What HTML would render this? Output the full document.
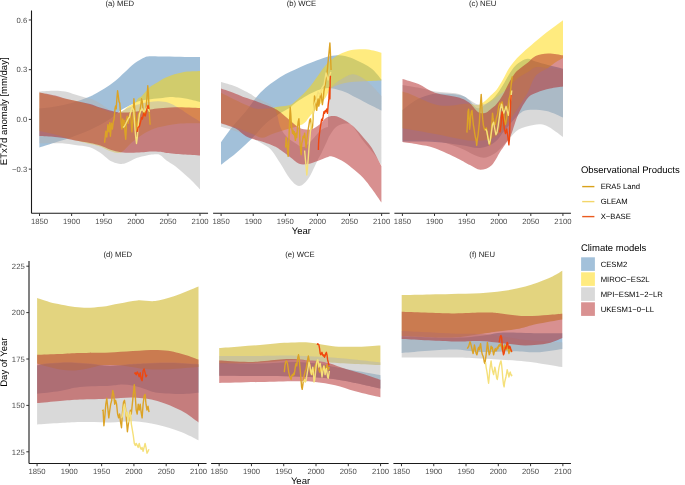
<!DOCTYPE html><html><head><meta charset="utf-8"><style>html,body{margin:0;padding:0;background:#fff;overflow:hidden}svg{display:block} text{filter:grayscale(1);text-rendering:geometricPrecision}</style></head><body><svg width="685" height="485" viewBox="0 0 685 485" font-family="Liberation Sans, sans-serif">
<rect width="685" height="485" fill="#fff"/>
<path d="M39.40 108.50C42.08 108.17 50.15 107.42 55.50 106.50C60.85 105.58 66.15 104.50 71.50 103.00C76.85 101.50 83.68 99.00 87.60 97.50C91.52 96.00 92.12 95.55 95.00 94.00C97.88 92.45 101.60 90.32 104.90 88.20C108.20 86.08 111.50 83.97 114.80 81.30C118.10 78.63 121.40 75.22 124.70 72.20C128.00 69.18 131.30 65.67 134.60 63.20C137.90 60.73 141.77 58.57 144.50 57.40C147.23 56.23 147.58 56.33 151.00 56.20C154.42 56.07 159.33 56.47 165.00 56.60C170.67 56.73 179.17 56.93 185.00 57.00C190.83 57.07 197.50 57.00 200.00 57.00L200.00 102.00C198.33 101.58 193.67 100.23 190.00 99.50C186.33 98.77 181.33 98.02 178.00 97.60C174.67 97.18 173.00 96.88 170.00 97.00C167.00 97.12 163.68 97.88 160.00 98.30C156.32 98.72 151.02 99.13 147.90 99.50C144.78 99.87 143.50 99.93 141.30 100.50C139.10 101.07 136.90 101.95 134.70 102.90C132.50 103.85 130.28 105.05 128.10 106.20C125.92 107.35 123.45 108.57 121.60 109.80C119.75 111.03 118.93 112.07 117.00 113.60C115.07 115.13 112.83 117.10 110.00 119.00C107.17 120.90 103.33 123.17 100.00 125.00C96.67 126.83 93.33 128.50 90.00 130.00C86.67 131.50 83.67 132.58 80.00 134.00C76.33 135.42 71.90 137.17 68.00 138.50C64.10 139.83 61.37 140.50 56.60 142.00C51.83 143.50 42.27 146.58 39.40 147.50Z" fill="#4682b4" fill-opacity="0.5"/>
<path d="M39.40 92.60C43.48 93.58 57.13 96.93 63.90 98.50C70.67 100.07 74.82 100.67 80.00 102.00C85.18 103.33 90.83 105.17 95.00 106.50C99.17 107.83 102.17 109.00 105.00 110.00C107.83 111.00 109.68 112.00 112.00 112.50C114.32 113.00 116.90 113.42 118.90 113.00C120.90 112.58 122.47 111.08 124.00 110.00C125.53 108.92 126.32 107.67 128.10 106.50C129.88 105.33 133.05 104.33 134.70 103.00C136.35 101.67 136.90 99.58 138.00 98.50C139.10 97.42 140.22 97.42 141.30 96.50C142.38 95.58 143.05 94.58 144.50 93.00C145.95 91.42 148.25 88.53 150.00 87.00C151.75 85.47 152.25 85.43 155.00 83.80C157.75 82.17 161.83 79.12 166.50 77.20C171.17 75.28 177.42 73.32 183.00 72.30C188.58 71.28 197.17 71.30 200.00 71.10L200.00 123.20C196.33 123.28 184.67 123.07 178.00 123.70C171.33 124.33 164.35 126.02 160.00 127.00C155.65 127.98 154.98 128.22 151.90 129.60C148.82 130.98 144.95 133.07 141.50 135.30C138.05 137.53 134.63 140.13 131.20 143.00C127.77 145.87 124.33 151.12 120.90 152.50C117.47 153.88 114.08 152.30 110.60 151.30C107.12 150.30 103.43 147.72 100.00 146.50C96.57 145.28 93.33 144.83 90.00 144.00C86.67 143.17 83.67 142.42 80.00 141.50C76.33 140.58 72.17 139.67 68.00 138.50C63.83 137.33 59.77 135.73 55.00 134.50C50.23 133.27 42.00 131.67 39.40 131.10Z" fill="#ffd700" fill-opacity="0.5"/>
<path d="M39.40 91.50C42.00 91.37 50.73 90.70 55.00 90.70C59.27 90.70 61.67 90.87 65.00 91.50C68.33 92.13 71.67 93.50 75.00 94.50C78.33 95.50 81.67 96.50 85.00 97.50C88.33 98.50 91.83 99.08 95.00 100.50C98.17 101.92 101.17 104.25 104.00 106.00C106.83 107.75 109.33 110.00 112.00 111.00C114.67 112.00 117.33 112.50 120.00 112.00C122.67 111.50 124.67 109.33 128.00 108.00C131.33 106.67 136.42 105.00 140.00 104.00C143.58 103.00 146.33 102.45 149.50 102.00C152.67 101.55 155.83 101.17 159.00 101.30C162.17 101.43 165.33 101.75 168.50 102.80C171.67 103.85 174.85 105.78 178.00 107.60C181.15 109.42 183.73 111.38 187.40 113.70C191.07 116.02 197.90 120.20 200.00 121.50L200.00 189.30C198.67 187.92 194.83 183.75 192.00 181.00C189.17 178.25 185.83 175.30 183.00 172.80C180.17 170.30 177.75 168.07 175.00 166.00C172.25 163.93 169.00 162.25 166.50 160.40C164.00 158.55 162.25 155.88 160.00 154.90C157.75 153.92 155.22 154.42 153.00 154.50C150.78 154.58 149.47 154.82 146.70 155.40C143.93 155.98 139.85 156.72 136.40 158.00C132.95 159.28 128.92 162.15 126.00 163.10C123.08 164.05 121.47 164.05 118.90 163.70C116.33 163.35 112.83 162.12 110.60 161.00C108.37 159.88 107.22 158.37 105.50 157.00C103.78 155.63 102.88 154.43 100.30 152.80C97.72 151.17 94.22 148.50 90.00 147.20C85.78 145.90 79.33 145.62 75.00 145.00C70.67 144.38 67.33 143.78 64.00 143.50C60.67 143.22 59.10 143.33 55.00 143.30C50.90 143.27 42.00 143.30 39.40 143.30Z" fill="#b3b3b3" fill-opacity="0.5"/>
<path d="M39.40 92.40C42.00 92.92 50.73 94.47 55.00 95.50C59.27 96.53 61.12 97.60 65.00 98.60C68.88 99.60 74.13 100.60 78.30 101.50C82.47 102.40 86.38 103.00 90.00 104.00C93.62 105.00 96.67 106.42 100.00 107.50C103.33 108.58 106.85 109.68 110.00 110.50C113.15 111.32 115.90 112.08 118.90 112.40C121.90 112.72 124.48 112.63 128.00 112.40C131.52 112.17 136.33 111.48 140.00 111.00C143.67 110.52 146.67 109.95 150.00 109.50C153.33 109.05 155.83 108.67 160.00 108.30C164.17 107.93 168.33 107.35 175.00 107.30C181.67 107.25 195.83 107.88 200.00 108.00L200.00 155.50C197.17 155.33 188.58 154.92 183.00 154.50C177.42 154.08 170.33 153.45 166.50 153.00C162.67 152.55 162.75 152.07 160.00 151.80C157.25 151.53 153.08 151.32 150.00 151.40C146.92 151.48 144.63 152.07 141.50 152.30C138.37 152.53 134.63 152.80 131.20 152.80C127.77 152.80 124.33 152.82 120.90 152.30C117.47 151.78 114.03 150.82 110.60 149.70C107.17 148.58 103.73 146.72 100.30 145.60C96.87 144.48 94.22 143.85 90.00 143.00C85.78 142.15 79.35 141.33 75.00 140.50C70.65 139.67 67.23 138.58 63.90 138.00C60.57 137.42 59.08 137.32 55.00 137.00C50.92 136.68 42.00 136.25 39.40 136.10Z" fill="#b22222" fill-opacity="0.5"/>
<path d="M104.6 142.8 L105.8 131.2 L106.8 137.0 L107.9 124.7 L108.9 131.9 L109.8 122.6 L110.4 136.3 L111.5 123.3 L112.4 129.1 L113.3 121.8 L114.1 119.0 L115.0 108.9 L115.6 106.0 L116.2 108.9 L117.0 97.3 L117.6 90.8 L118.3 95.9 L119.0 101.6 L119.8 103.1 L120.5 113.2 L121.2 123.3 L121.9 129.1 L122.7 119.0 L123.4 127.6 L124.2 120.4 L124.8 130.5 L125.7 139.2 L126.4 127.6 L126.2 120.4 L127.2 116.1 L128.2 123.3 L129.0 117.5 L130.1 113.2 L131.1 120.4 L131.9 131.9 L132.6 123.3 L133.4 108.9 L133.9 98.8 L134.5 106.0 L135.1 114.6 L135.8 123.3 L136.5 130.5 L137.3 123.3 L138.0 117.5 L138.7 113.2 L139.4 116.1 L140.2 108.9 L140.9 104.5 L141.6 98.8 L142.3 101.6 L143.0 108.9 L143.8 114.6 L144.5 111.7 L145.2 116.1 L145.9 108.9 L146.6 101.6 L147.4 91.5 L147.8 85.8 L148.4 94.4 L149.0 106.0 L149.5 116.1 L150.1 124.7" stroke="#dca325" stroke-width="1.4" fill="none" stroke-linejoin="round"/>
<path d="M123.1 127.6 L124.5 126.2 L126.0 123.3 L127.4 120.4 L128.9 117.5 L129.3 117.5 L130.8 111.7 L132.2 107.4 L133.7 110.3 L134.4 120.4 L135.1 130.5 L135.8 137.7 L136.5 143.5 L137.3 137.7 L138.0 127.6 L138.7 120.4 L139.4 114.6 L140.9 110.3 L142.3 108.9 L143.8 111.7 L145.2 110.3 L146.6 107.4 L148.1 108.9 L149.5 111.7" stroke="#f5e07a" stroke-width="1.4" fill="none" stroke-linejoin="round"/>
<path d="M137.3 131.9 L138.0 127.6 L138.7 126.9 L139.4 126.2 L140.2 123.3 L140.9 120.4 L141.6 117.5 L142.3 119.0 L143.0 116.1 L143.8 113.2 L144.5 114.6 L145.2 116.1 L145.9 113.2 L146.6 110.3 L147.4 107.4 L148.1 105.3 L148.8 108.9" stroke="#f0470e" stroke-width="1.4" fill="none" stroke-linejoin="round"/>
<path d="M221.00 142.20C223.00 139.50 228.85 131.17 233.00 126.00C237.15 120.83 242.03 115.95 245.90 111.20C249.77 106.45 252.97 101.37 256.20 97.50C259.43 93.63 262.12 90.83 265.30 88.00C268.48 85.17 271.92 82.83 275.30 80.50C278.68 78.17 282.17 75.87 285.60 74.00C289.03 72.13 292.47 70.87 295.90 69.30C299.33 67.73 302.77 66.07 306.20 64.60C309.63 63.13 313.37 61.70 316.50 60.50C319.63 59.30 321.92 58.23 325.00 57.40C328.08 56.57 331.67 55.73 335.00 55.50C338.33 55.27 341.52 55.25 345.00 56.00C348.48 56.75 351.50 57.92 355.90 60.00C360.30 62.08 367.15 65.25 371.40 68.50C375.65 71.75 379.73 77.67 381.40 79.50L381.40 110.50C378.90 109.25 370.65 105.15 366.40 103.00C362.15 100.85 359.47 99.43 355.90 97.60C352.33 95.77 349.12 93.55 345.00 92.00C340.88 90.45 334.80 88.87 331.20 88.30C327.60 87.73 326.10 88.07 323.40 88.60C320.70 89.13 317.73 90.35 315.00 91.50C312.27 92.65 309.02 94.40 307.00 95.50C304.98 96.60 304.73 96.93 302.90 98.10C301.07 99.27 298.15 100.93 296.00 102.50C293.85 104.07 291.83 106.17 290.00 107.50C288.17 108.83 286.75 109.48 285.00 110.50C283.25 111.52 280.90 112.72 279.50 113.60C278.10 114.48 278.18 114.73 276.60 115.80C275.02 116.87 272.40 118.13 270.00 120.00C267.60 121.87 264.50 124.67 262.20 127.00C259.90 129.33 258.92 131.13 256.20 134.00C253.48 136.87 249.33 140.95 245.90 144.20C242.47 147.45 239.75 150.07 235.60 153.50C231.45 156.93 223.43 162.92 221.00 164.80Z" fill="#4682b4" fill-opacity="0.5"/>
<path d="M221.00 92.70C223.43 93.92 231.60 98.03 235.60 100.00C239.60 101.97 241.77 103.08 245.00 104.50C248.23 105.92 252.17 107.78 255.00 108.50C257.83 109.22 259.50 108.85 262.00 108.80C264.50 108.75 268.00 108.42 270.00 108.20C272.00 107.98 272.33 107.78 274.00 107.50C275.67 107.22 277.33 106.92 280.00 106.50C282.67 106.08 287.50 105.83 290.00 105.00C292.50 104.17 293.33 102.83 295.00 101.50C296.67 100.17 298.13 98.75 300.00 97.00C301.87 95.25 304.20 93.17 306.20 91.00C308.20 88.83 309.95 86.67 312.00 84.00C314.05 81.33 316.33 78.00 318.50 75.00C320.67 72.00 322.37 68.93 325.00 66.00C327.63 63.07 330.97 59.73 334.30 57.40C337.63 55.07 341.40 53.30 345.00 52.00C348.60 50.70 352.07 50.02 355.90 49.60C359.73 49.18 363.75 48.98 368.00 49.50C372.25 50.02 379.17 52.17 381.40 52.70L381.40 80.50C378.43 80.63 369.67 80.88 363.60 81.30C357.53 81.72 350.43 81.80 345.00 83.00C339.57 84.20 334.17 86.17 331.00 88.50C327.83 90.83 328.17 93.92 326.00 97.00C323.83 100.08 320.67 103.83 318.00 107.00C315.33 110.17 312.17 113.42 310.00 116.00C307.83 118.58 306.82 120.87 305.00 122.50C303.18 124.13 301.63 124.78 299.10 125.80C296.57 126.82 292.88 127.68 289.80 128.60C286.72 129.52 283.73 130.32 280.60 131.30C277.47 132.28 274.10 133.42 271.00 134.50C267.90 135.58 265.50 138.05 262.00 137.80C258.50 137.55 254.40 134.72 250.00 133.00C245.60 131.28 240.43 129.17 235.60 127.50C230.77 125.83 223.43 123.75 221.00 123.00Z" fill="#ffd700" fill-opacity="0.5"/>
<path d="M221.00 82.00C223.43 82.75 230.77 84.55 235.60 86.50C240.43 88.45 246.77 91.95 250.00 93.70C253.23 95.45 253.00 95.87 255.00 97.00C257.00 98.13 259.50 99.25 262.00 100.50C264.50 101.75 267.92 103.15 270.00 104.50C272.08 105.85 273.25 106.68 274.50 108.60C275.75 110.52 276.53 112.93 277.50 116.00C278.47 119.07 278.88 123.67 280.30 127.00C281.72 130.33 283.55 133.33 286.00 136.00C288.45 138.67 292.05 141.17 295.00 143.00C297.95 144.83 300.87 147.50 303.70 147.00C306.53 146.50 309.12 142.83 312.00 140.00C314.88 137.17 318.33 132.17 321.00 130.00C323.67 127.83 326.83 127.50 328.00 127.00L328.00 139.00C327.00 141.17 323.72 148.48 322.00 152.00C320.28 155.52 319.97 155.67 317.70 160.10C315.43 164.53 311.50 174.27 308.40 178.60C305.30 182.93 302.20 186.10 299.10 186.10C296.00 186.10 292.88 182.32 289.80 178.60C286.72 174.88 283.68 168.58 280.60 163.80C277.52 159.02 274.40 153.30 271.30 149.90C268.20 146.50 265.55 145.55 262.00 143.40C258.45 141.25 254.40 139.07 250.00 137.00C245.60 134.93 240.43 132.72 235.60 131.00C230.77 129.28 223.43 127.42 221.00 126.70Z" fill="#b3b3b3" fill-opacity="0.5"/>
<path d="M328.00 92.00C328.50 91.25 329.00 89.50 331.00 87.50C333.00 85.50 336.62 82.18 340.00 80.00C343.38 77.82 347.80 74.90 351.30 74.40C354.80 73.90 357.65 75.20 361.00 77.00C364.35 78.80 368.00 82.03 371.40 85.20C374.80 88.37 379.73 94.20 381.40 96.00L381.40 165.00C380.18 163.17 377.12 158.00 374.10 154.00C371.08 150.00 366.83 145.58 363.30 141.00C359.77 136.42 355.45 129.40 352.90 126.50C350.35 123.60 349.98 123.93 348.00 123.60C346.02 123.27 343.17 123.77 341.00 124.50C338.83 125.23 336.93 126.08 335.00 128.00C333.07 129.92 330.57 134.17 329.40 136.00C328.23 137.83 328.23 138.50 328.00 139.00Z" fill="#b3b3b3" fill-opacity="0.5"/>
<path d="M221.00 88.60C223.43 89.45 231.60 92.22 235.60 93.70C239.60 95.18 241.77 96.33 245.00 97.50C248.23 98.67 252.17 99.70 255.00 100.70C257.83 101.70 259.50 102.53 262.00 103.50C264.50 104.47 267.92 105.65 270.00 106.50C272.08 107.35 272.83 107.68 274.50 108.60C276.17 109.52 277.42 110.02 280.00 112.00C282.58 113.98 286.87 117.92 290.00 120.50C293.13 123.08 296.47 126.03 298.80 127.50C301.13 128.97 301.85 129.00 304.00 129.30C306.15 129.60 309.12 130.08 311.70 129.30C314.28 128.52 317.12 126.48 319.50 124.60C321.88 122.72 323.75 119.43 326.00 118.00C328.25 116.57 330.57 116.00 333.00 116.00C335.43 116.00 337.28 116.33 340.60 118.00C343.92 119.67 348.78 122.38 352.90 126.00C357.02 129.62 362.12 135.98 365.30 139.70C368.48 143.42 369.32 143.92 372.00 148.30C374.68 152.68 379.83 163.05 381.40 166.00L381.40 202.50C379.83 200.25 375.02 193.10 372.00 189.00C368.98 184.90 366.63 181.40 363.30 177.90C359.97 174.40 355.62 170.88 352.00 168.00C348.38 165.12 344.93 162.53 341.60 160.60C338.27 158.67 334.43 156.95 332.00 156.40C329.57 155.85 329.38 156.53 327.00 157.30C324.62 158.07 320.87 159.88 317.70 161.00C314.53 162.12 311.10 163.53 308.00 164.00C304.90 164.47 302.10 164.97 299.10 163.80C296.10 162.63 293.08 159.30 290.00 157.00C286.92 154.70 283.10 151.75 280.60 150.00C278.10 148.25 278.10 147.92 275.00 146.50C271.90 145.08 265.17 142.58 262.00 141.50C258.83 140.42 258.68 140.87 256.00 140.00C253.32 139.13 249.30 138.22 245.90 136.30C242.50 134.38 239.75 130.68 235.60 128.50C231.45 126.32 223.43 124.08 221.00 123.20Z" fill="#b22222" fill-opacity="0.5"/>
<path d="M285.6 147.6 L286.2 137.5 L287.0 143.3 L287.6 151.9 L288.2 156.3 L288.8 143.3 L289.3 128.9 L289.9 114.4 L290.2 107.2 L290.8 114.4 L291.4 126.0 L291.9 128.9 L292.5 133.2 L293.1 130.3 L293.7 134.6 L294.3 131.7 L294.8 136.1 L295.4 140.4 L296.0 133.2 L296.7 137.5 L297.4 128.9 L298.2 121.6 L298.9 118.8 L299.5 128.9 L300.0 143.3 L300.6 149.1 L301.2 154.8 L301.8 143.3 L302.5 140.4 L303.2 136.1 L303.9 137.5 L304.6 133.2 L305.4 140.4 L306.1 147.6 L306.8 140.4 L307.5 134.6 L308.3 128.9 L309.0 124.5 L309.7 120.2 L310.4 118.8 L311.1 123.1 L311.9 128.9 L312.6 126.0 L313.3 114.4 L314.0 107.2 L314.5 96.0 L315.2 98.9 L315.9 104.6 L316.7 110.4 L317.4 103.2 L318.1 98.9 L318.8 106.1 L319.5 101.7 L320.3 96.0 L321.0 93.1 L321.7 98.9 L322.4 104.6 L323.2 98.9 L323.9 91.6 L324.6 87.3 L325.3 84.4 L326.0 78.7 L326.8 75.8 L329.9 43.0 L330.4 52.7 L331.1 70.0" stroke="#dca325" stroke-width="1.4" fill="none" stroke-linejoin="round"/>
<path d="M304.6 150.5 L305.4 159.2 L306.1 166.4 L306.8 175.0 L307.5 167.8 L308.3 157.7 L309.0 147.6 L309.7 140.4 L310.4 131.7 L311.1 126.0 L311.9 121.6 L312.6 117.3 L313.3 111.5 L314.0 105.8 L315.9 100.3 L318.0 91.9 L320.0 95.0 L322.0 88.0 L324.0 85.0 L326.0 73.0 L328.1 80.0 L330.9 71.9" stroke="#f5e07a" stroke-width="1.4" fill="none" stroke-linejoin="round"/>
<path d="M318.4 150.1 L318.5 145.0 L318.8 139.3 L319.5 133.5 L320.3 127.7 L321.0 123.4 L321.7 119.1 L322.4 120.5 L323.2 116.2 L323.9 111.8 L324.6 113.3 L325.3 110.4 L326.0 111.8 L326.8 109.0 L327.5 113.3 L328.2 104.6 L328.9 98.9 L329.4 91.6 L329.6 87.3 L329.8 90.2 L329.9 98.9 L330.1 87.3 L330.2 80.1 L330.4 75.8" stroke="#f0470e" stroke-width="1.4" fill="none" stroke-linejoin="round"/>
<path d="M402.50 110.00C403.75 109.00 407.08 106.00 410.00 104.00C412.92 102.00 416.58 99.58 420.00 98.00C423.42 96.42 427.17 95.25 430.50 94.50C433.83 93.75 436.42 93.58 440.00 93.50C443.58 93.42 448.17 93.58 452.00 94.00C455.83 94.42 460.17 95.00 463.00 96.00C465.83 97.00 466.50 97.97 469.00 100.00C471.50 102.03 474.43 108.07 478.00 108.20C481.57 108.33 487.30 103.07 490.40 100.80C493.50 98.53 494.53 97.18 496.60 94.60C498.67 92.02 500.75 88.60 502.80 85.30C504.85 82.00 506.85 78.00 508.90 74.80C510.95 71.60 513.03 68.37 515.10 66.10C517.17 63.83 519.15 62.43 521.30 61.20C523.45 59.97 525.62 58.65 528.00 58.70C530.38 58.75 532.27 60.45 535.60 61.50C538.93 62.55 543.43 63.80 548.00 65.00C552.57 66.20 560.50 68.08 563.00 68.70L563.00 117.50C560.23 116.42 552.27 112.25 546.40 111.00C540.53 109.75 532.43 109.38 527.80 110.00C523.17 110.62 522.40 111.37 518.60 114.70C514.80 118.03 508.93 125.45 505.00 130.00C501.07 134.55 499.17 139.00 495.00 142.00C490.83 145.00 485.83 147.50 480.00 148.00C474.17 148.50 467.50 146.00 460.00 145.00C452.50 144.00 444.58 142.58 435.00 142.00C425.42 141.42 407.92 141.58 402.50 141.50Z" fill="#4682b4" fill-opacity="0.5"/>
<path d="M402.50 91.60C403.75 92.00 407.08 92.85 410.00 94.00C412.92 95.15 416.58 97.00 420.00 98.50C423.42 100.00 427.17 101.83 430.50 103.00C433.83 104.17 436.42 105.08 440.00 105.50C443.58 105.92 448.17 105.75 452.00 105.50C455.83 105.25 459.83 104.25 463.00 104.00C466.17 103.75 468.50 103.83 471.00 104.00C473.50 104.17 475.67 105.50 478.00 105.00C480.33 104.50 482.93 102.53 485.00 101.00C487.07 99.47 488.47 97.68 490.40 95.80C492.33 93.92 494.53 92.37 496.60 89.70C498.67 87.03 500.75 83.32 502.80 79.80C504.85 76.28 506.87 71.82 508.90 68.60C510.93 65.38 512.93 62.93 515.00 60.50C517.07 58.07 518.55 56.58 521.30 54.00C524.05 51.42 527.32 48.57 531.50 45.00C535.68 41.43 541.15 36.73 546.40 32.60C551.65 28.47 560.23 22.27 563.00 20.20L563.00 57.90C561.83 58.58 558.50 60.32 556.00 62.00C553.50 63.68 551.40 65.67 548.00 68.00C544.60 70.33 538.93 72.00 535.60 76.00C532.27 80.00 530.60 87.17 528.00 92.00C525.40 96.83 523.00 100.33 520.00 105.00C517.00 109.67 513.33 115.33 510.00 120.00C506.67 124.67 503.33 129.83 500.00 133.00C496.67 136.17 494.17 137.67 490.00 139.00C485.83 140.33 480.00 141.00 475.00 141.00C470.00 141.00 466.67 140.17 460.00 139.00C453.33 137.83 444.58 135.78 435.00 134.00C425.42 132.22 407.92 129.25 402.50 128.30Z" fill="#ffd700" fill-opacity="0.5"/>
<path d="M402.50 85.00C405.42 85.50 414.58 86.92 420.00 88.00C425.42 89.08 428.72 90.53 435.00 91.50C441.28 92.47 452.03 92.47 457.70 93.80C463.37 95.13 465.62 97.72 469.00 99.50C472.38 101.28 474.83 103.92 478.00 104.50C481.17 105.08 484.67 104.42 488.00 103.00C491.33 101.58 494.67 98.50 498.00 96.00C501.33 93.50 504.67 91.00 508.00 88.00C511.33 85.00 514.67 80.67 518.00 78.00C521.33 75.33 525.07 73.80 528.00 72.00C530.93 70.20 532.27 67.87 535.60 67.20C538.93 66.53 543.43 67.62 548.00 68.00C552.57 68.38 560.50 69.25 563.00 69.50L563.00 137.00C560.23 135.13 551.33 127.82 546.40 125.80C541.47 123.78 538.03 124.28 533.40 124.90C528.77 125.52 522.62 127.18 518.60 129.50C514.58 131.82 512.40 135.55 509.30 138.80C506.20 142.05 502.88 146.30 500.00 149.00C497.12 151.70 495.27 153.62 492.00 155.00C488.73 156.38 486.12 158.62 480.40 157.30C474.68 155.98 465.27 149.93 457.70 147.10C450.13 144.27 441.28 141.48 435.00 140.30C428.72 139.12 425.42 140.05 420.00 140.00C414.58 139.95 405.42 140.00 402.50 140.00Z" fill="#b3b3b3" fill-opacity="0.5"/>
<path d="M402.50 78.90C405.17 79.75 413.08 81.70 418.50 84.00C423.92 86.30 428.47 90.50 435.00 92.70C441.53 94.90 452.03 95.57 457.70 97.20C463.37 98.83 465.62 100.03 469.00 102.50C472.38 104.97 475.33 110.25 478.00 112.00C480.67 113.75 482.93 113.42 485.00 113.00C487.07 112.58 488.47 111.00 490.40 109.50C492.33 108.00 494.53 106.42 496.60 104.00C498.67 101.58 500.75 98.50 502.80 95.00C504.85 91.50 506.85 86.67 508.90 83.00C510.95 79.33 513.03 75.60 515.10 73.00C517.17 70.40 519.15 69.15 521.30 67.40C523.45 65.65 525.62 64.40 528.00 62.50C530.38 60.60 532.23 57.50 535.60 56.00C538.97 54.50 543.63 53.62 548.20 53.50C552.77 53.38 560.53 55.00 563.00 55.30L563.00 86.50C560.83 86.83 554.33 87.52 550.00 88.50C545.67 89.48 540.70 90.82 537.00 92.40C533.30 93.98 530.97 94.23 527.80 98.00C524.63 101.77 520.80 108.83 518.00 115.00C515.20 121.17 513.17 130.03 511.00 135.00C508.83 139.97 506.83 141.97 505.00 144.80C503.17 147.63 502.22 148.60 500.00 152.00C497.78 155.40 494.97 162.23 491.70 165.20C488.43 168.17 484.02 169.83 480.40 169.80C476.78 169.77 473.78 166.90 470.00 165.00C466.22 163.10 463.53 161.20 457.70 158.40C451.87 155.60 441.53 150.52 435.00 148.20C428.47 145.88 423.92 145.53 418.50 144.50C413.08 143.47 405.17 142.42 402.50 142.00Z" fill="#b22222" fill-opacity="0.5"/>
<path d="M466.9 132.6 L467.5 122.5 L468.0 111.8 L468.6 109.1 L469.1 118.5 L469.6 129.2 L470.2 123.9 L470.7 115.8 L471.4 111.8 L472.0 110.5 L472.7 118.5 L473.4 125.2 L474.1 129.2 L474.7 133.3 L475.4 137.3 L476.1 140.0 L476.7 145.3 L477.4 138.6 L478.1 134.6 L478.7 129.2 L479.4 122.5 L479.8 114.5 L480.4 105.1 L480.9 98.4 L481.2 94.4 L481.6 101.1 L482.1 111.8 L482.8 119.9 L483.4 125.2 L484.1 127.9 L484.9 130.1 L486.3 127.9 L487.4 133.5 L488.5 140.4 L489.7 144.9 L490.8 138.1 L491.9 123.3 L492.5 113.1 L493.1 117.7 L494.2 123.3 L495.3 124.5 L496.5 117.7 L497.6 114.3 L498.7 106.3 L499.9 102.9 L501.0 105.2 L502.1 101.8 L503.3 108.6 L504.4 119.9 L505.5 124.5 L506.7 117.7 L507.8 108.6 L508.9 99.5 L510.1 95.0 L511.4 83.1 L512.3 76.3" stroke="#dca325" stroke-width="1.4" fill="none" stroke-linejoin="round"/>
<path d="M485.7 129.0 L486.8 131.3 L488.0 138.1 L489.1 143.8 L490.2 140.4 L491.4 132.4 L492.5 124.5 L493.6 122.2 L494.8 129.0 L495.9 134.7 L497.0 132.4 L498.2 125.6 L499.3 117.7 L500.4 108.6 L501.6 104.1 L502.7 109.7 L503.8 113.1 L505.0 109.7 L506.1 106.3 L507.2 110.9 L508.4 115.4 L509.5 108.6 L510.6 99.5 L511.8 90.5" stroke="#f5e07a" stroke-width="1.4" fill="none" stroke-linejoin="round"/>
<path d="M499.9 132.4 L501.0 124.5 L501.6 115.4 L502.1 112.0 L503.3 119.9 L504.4 129.0 L505.5 133.5 L506.7 129.0 L507.8 135.8 L508.9 144.9 L509.5 138.1 L510.1 117.7 L510.6 101.8 L511.2 95.0" stroke="#f0470e" stroke-width="1.4" fill="none" stroke-linejoin="round"/>
<path d="M37.10 365.50C38.42 365.25 41.18 364.42 45.00 364.00C48.82 363.58 55.00 363.17 60.00 363.00C65.00 362.83 70.00 362.83 75.00 363.00C80.00 363.17 84.17 363.50 90.00 364.00C95.83 364.50 103.33 365.92 110.00 366.00C116.67 366.08 124.08 364.88 130.00 364.50C135.92 364.12 138.83 363.95 145.50 363.70C152.17 363.45 161.17 362.87 170.00 363.00C178.83 363.13 193.75 364.25 198.50 364.50L198.50 392.80C195.60 393.00 187.95 394.00 181.10 394.00C174.25 394.00 163.33 393.60 157.40 392.80C151.47 392.00 149.45 390.38 145.50 389.20C141.55 388.02 137.65 386.48 133.70 385.70C129.75 384.92 125.75 384.50 121.80 384.50C117.85 384.50 116.97 385.28 110.00 385.70C103.03 386.12 88.33 386.12 80.00 387.00C71.67 387.88 67.15 389.87 60.00 391.00C52.85 392.13 40.92 393.33 37.10 393.80Z" fill="#4682b4" fill-opacity="0.5"/>
<path d="M37.10 297.90C40.17 298.83 48.17 301.88 55.50 303.50C62.83 305.12 73.43 307.05 81.10 307.60C88.77 308.15 95.12 307.48 101.50 306.80C107.88 306.12 113.43 304.57 119.40 303.50C125.37 302.43 131.33 300.82 137.30 300.40C143.27 299.98 149.23 301.63 155.20 301.00C161.17 300.37 165.88 299.02 173.10 296.60C180.32 294.18 194.27 288.18 198.50 286.50L198.50 367.00C196.25 367.17 190.58 367.58 185.00 368.00C179.42 368.42 171.58 369.33 165.00 369.50C158.42 369.67 152.17 369.58 145.50 369.00C138.83 368.42 130.92 366.67 125.00 366.00C119.08 365.33 114.17 365.08 110.00 365.00C105.83 364.92 103.33 365.00 100.00 365.50C96.67 366.00 94.17 367.17 90.00 368.00C85.83 368.83 80.00 370.25 75.00 370.50C70.00 370.75 65.00 370.25 60.00 369.50C55.00 368.75 48.82 367.00 45.00 366.00C41.18 365.00 38.42 363.92 37.10 363.50Z" fill="#c7a900" fill-opacity="0.5"/>
<path d="M37.10 365.00C38.42 364.75 41.18 363.92 45.00 363.50C48.82 363.08 55.00 362.67 60.00 362.50C65.00 362.33 70.00 362.33 75.00 362.50C80.00 362.67 84.17 363.00 90.00 363.50C95.83 364.00 103.33 365.42 110.00 365.50C116.67 365.58 124.08 364.38 130.00 364.00C135.92 363.62 138.83 363.45 145.50 363.20C152.17 362.95 161.17 362.37 170.00 362.50C178.83 362.63 193.75 363.75 198.50 364.00L198.50 440.20C195.60 438.82 187.95 434.47 181.10 431.90C174.25 429.33 165.30 426.58 157.40 424.80C149.50 423.02 141.60 421.60 133.70 421.20C125.80 420.80 118.95 422.27 110.00 422.40C101.05 422.53 88.33 421.90 80.00 422.00C71.67 422.10 67.15 422.60 60.00 423.00C52.85 423.40 40.92 424.17 37.10 424.40Z" fill="#b3b3b3" fill-opacity="0.5"/>
<path d="M37.10 354.80C40.92 354.67 52.85 354.30 60.00 354.00C67.15 353.70 71.67 353.25 80.00 353.00C88.33 352.75 97.10 352.98 110.00 352.50C122.90 352.02 145.55 349.90 157.40 350.10C169.25 350.30 174.25 352.12 181.10 353.70C187.95 355.28 195.60 358.62 198.50 359.60L198.50 422.40C195.60 420.43 187.95 414.17 181.10 410.60C174.25 407.03 165.30 403.18 157.40 401.00C149.50 398.82 141.60 397.88 133.70 397.50C125.80 397.12 118.95 398.37 110.00 398.70C101.05 399.03 88.33 399.12 80.00 399.50C71.67 399.88 67.15 400.40 60.00 401.00C52.85 401.60 40.92 402.75 37.10 403.10Z" fill="#b22222" fill-opacity="0.5"/>
<path d="M102.3 411.1 L103.1 410.1 L103.9 425.8 L104.9 416.0 L105.8 404.2 L106.8 398.3 L107.8 408.1 L108.8 417.9 L109.8 410.1 L110.7 404.2 L111.7 400.3 L112.7 390.5 L113.7 394.4 L114.7 404.2 L115.6 400.3 L116.6 404.2 L117.6 414.0 L118.6 417.9 L119.6 414.0 L120.5 421.9 L121.5 427.7 L122.5 412.1 L123.5 402.3 L124.5 400.3 L125.5 408.1 L126.4 419.9 L127.4 431.7 L128.4 423.8 L129.4 416.0 L130.4 410.1 L131.3 414.0 L132.3 404.2 L133.3 394.4 L134.3 384.6 L135.3 396.4 L136.2 410.1 L137.2 414.0 L138.2 404.2 L139.2 410.1 L140.2 404.2 L141.1 412.1 L142.1 417.9 L143.1 404.2 L144.1 396.4 L145.1 394.4 L146.0 404.2 L147.0 410.1 L148.0 406.2 L149.0 412.1" stroke="#dca325" stroke-width="1.4" fill="none" stroke-linejoin="round"/>
<path d="M121.5 417.9 L122.5 416.0 L123.5 408.1 L124.5 404.2 L125.5 410.1 L126.4 416.0 L127.4 412.1 L128.4 421.9 L129.4 416.0 L130.4 412.1 L131.3 423.8 L132.3 429.7 L133.3 435.6 L134.3 443.4 L135.3 445.4 L136.2 443.4 L137.2 445.4 L138.2 447.4 L139.2 443.4 L140.2 447.4 L141.1 449.3 L142.1 447.4 L143.1 451.3 L144.1 447.4 L145.1 443.4 L146.0 447.4 L147.0 453.2 L148.0 451.3 L149.0 449.3" stroke="#f5e07a" stroke-width="1.4" fill="none" stroke-linejoin="round"/>
<path d="M134.5 373.8 L135.3 372.8 L136.2 374.8 L137.2 371.9 L138.2 373.8 L139.2 376.8 L140.2 372.8 L141.1 378.7 L142.1 380.7 L143.1 370.9 L144.1 368.9 L145.1 372.8 L146.0 376.8 L147.0 374.8" stroke="#f0470e" stroke-width="1.4" fill="none" stroke-linejoin="round"/>
<path d="M219.20 363.00C226.00 363.08 247.37 363.67 260.00 363.50C272.63 363.33 285.00 361.92 295.00 362.00C305.00 362.08 313.30 363.15 320.00 364.00C326.70 364.85 325.13 365.23 335.20 367.10C345.27 368.97 372.87 373.85 380.40 375.20L380.40 388.50C372.87 386.95 349.43 381.20 335.20 379.20C320.97 377.20 307.53 377.03 295.00 376.50C282.47 375.97 272.63 376.13 260.00 376.00C247.37 375.87 226.00 375.75 219.20 375.70Z" fill="#4682b4" fill-opacity="0.5"/>
<path d="M219.20 348.10C222.67 347.83 233.20 347.02 240.00 346.50C246.80 345.98 253.33 345.58 260.00 345.00C266.67 344.42 274.17 343.43 280.00 343.00C285.83 342.57 290.27 342.50 295.00 342.40C299.73 342.30 303.93 342.07 308.40 342.40C312.87 342.73 317.33 343.73 321.80 344.40C326.27 345.07 329.63 346.00 335.20 346.40C340.77 346.80 347.67 346.97 355.20 346.80C362.73 346.63 376.20 345.63 380.40 345.40L380.40 365.10C376.17 364.92 361.73 364.32 355.00 364.00C348.27 363.68 344.17 363.45 340.00 363.20C335.83 362.95 333.67 362.83 330.00 362.50C326.33 362.17 322.00 361.53 318.00 361.20C314.00 360.87 309.83 360.73 306.00 360.50C302.17 360.27 299.33 359.72 295.00 359.80C290.67 359.88 287.50 360.47 280.00 361.00C272.50 361.53 260.13 362.62 250.00 363.00C239.87 363.38 224.33 363.25 219.20 363.30Z" fill="#c7a900" fill-opacity="0.5"/>
<path d="M219.20 356.00C226.00 356.00 247.37 356.05 260.00 356.00C272.63 355.95 282.47 355.40 295.00 355.70C307.53 356.00 320.97 356.68 335.20 357.80C349.43 358.92 372.87 361.63 380.40 362.40L380.40 388.50C372.87 386.95 349.43 381.20 335.20 379.20C320.97 377.20 307.53 377.03 295.00 376.50C282.47 375.97 272.63 376.13 260.00 376.00C247.37 375.87 226.00 375.75 219.20 375.70Z" fill="#b3b3b3" fill-opacity="0.5"/>
<path d="M219.20 360.60C224.33 360.83 239.87 362.18 250.00 362.00C260.13 361.82 272.50 359.98 280.00 359.50C287.50 359.02 290.67 358.98 295.00 359.10C299.33 359.22 302.17 359.88 306.00 360.20C309.83 360.52 314.00 360.45 318.00 361.00C322.00 361.55 326.33 362.50 330.00 363.50C333.67 364.50 336.92 365.95 340.00 367.00C343.08 368.05 344.33 368.55 348.50 369.80C352.67 371.05 359.68 372.83 365.00 374.50C370.32 376.17 377.83 378.92 380.40 379.80L380.40 397.20C376.20 396.20 362.73 393.20 355.20 391.20C347.67 389.20 341.90 386.75 335.20 385.20C328.50 383.65 321.70 382.57 315.00 381.90C308.30 381.23 304.17 381.18 295.00 381.20C285.83 381.22 272.63 381.70 260.00 382.00C247.37 382.30 226.00 382.83 219.20 383.00Z" fill="#b22222" fill-opacity="0.5"/>
<path d="M284.3 372.1 L284.9 365.9 L285.6 362.2 L286.2 361.0 L286.8 361.6 L287.4 363.4 L288.0 367.1 L288.7 372.1 L289.3 374.6 L289.9 377.0 L290.5 378.3 L291.1 379.5 L291.7 375.8 L292.4 374.6 L293.0 375.8 L293.6 373.3 L294.2 374.6 L294.8 370.8 L295.5 365.9 L296.1 363.4 L296.7 365.9 L297.3 361.0 L297.9 357.2 L298.5 354.8 L299.2 358.5 L299.8 365.9 L300.4 372.1 L301.0 379.5 L301.6 386.9 L302.2 389.4 L302.9 384.4 L303.5 379.5 L304.1 375.8 L304.7 373.3 L305.3 370.8 L306.0 369.6 L306.6 365.9 L307.2 362.2 L307.8 358.5 L308.4 356.0 L309.0 359.7 L309.7 365.9 L310.3 372.1 L310.9 373.3 L311.5 369.6 L312.1 372.1 L312.8 374.6 L313.4 373.3 L314.0 370.8 L314.6 368.4 L315.2 365.9 L315.8 364.7 L316.5 363.4 L317.1 361.0 L317.7 362.2 L318.3 365.9 L318.9 369.6 L319.6 372.1 L320.2 370.8 L320.8 368.4 L321.4 369.6 L322.0 372.1 L322.6 369.6 L323.3 367.1 L323.9 365.9 L324.5 368.4 L325.1 372.1 L325.7 370.8 L326.4 367.1 L327.0 364.7 L327.6 367.1 L328.2 369.6 L328.8 368.4 L329.4 367.1" stroke="#dca325" stroke-width="1.4" fill="none" stroke-linejoin="round"/>
<path d="M303.5 382.0 L304.1 380.7 L304.7 379.5 L305.3 382.0 L306.0 380.7 L306.6 377.0 L307.2 373.3 L307.8 369.6 L308.4 365.9 L309.0 362.2 L309.7 364.7 L310.3 368.4 L310.9 372.1 L311.5 374.6 L312.1 370.8 L312.8 367.1 L313.4 372.1 L314.0 382.0 L314.6 380.7 L315.2 375.8 L315.8 369.6 L316.5 363.4 L317.1 361.0 L317.7 359.7 L318.3 362.2 L318.9 367.1 L319.6 364.7 L320.2 363.4 L320.8 367.1 L321.4 372.1 L322.0 377.0 L322.6 373.3 L323.3 368.4 L323.9 365.9 L324.5 369.6 L325.1 374.6 L325.7 370.8 L326.4 368.4 L327.0 372.1 L327.6 377.0 L328.2 378.3 L328.8 374.6 L329.4 370.8" stroke="#f5e07a" stroke-width="1.4" fill="none" stroke-linejoin="round"/>
<path d="M317.1 344.9 L317.7 343.7 L318.3 344.3 L318.9 344.9 L319.6 348.6 L320.2 353.5 L320.8 354.8 L321.4 353.5 L322.0 352.3 L322.6 354.8 L323.3 356.0 L323.9 354.8 L324.5 357.2 L325.1 356.0 L325.7 353.5 L326.4 352.3 L327.0 354.8 L327.6 359.7 L328.2 362.2 L328.8 364.7 L329.4 365.3" stroke="#f0470e" stroke-width="1.4" fill="none" stroke-linejoin="round"/>
<path d="M401.70 336.20C410.00 336.47 438.45 337.83 451.50 337.80C464.55 337.77 472.25 336.80 480.00 336.00C487.75 335.20 493.00 333.58 498.00 333.00C503.00 332.42 505.43 332.50 510.00 332.50C514.57 332.50 519.07 332.87 525.40 333.00C531.73 333.13 541.85 333.25 548.00 333.30C554.15 333.35 559.92 333.30 562.30 333.30L562.30 348.90C558.03 349.47 544.75 351.92 536.70 352.30C528.65 352.68 523.45 351.25 514.00 351.20C504.55 351.15 490.42 352.28 480.00 352.00C469.58 351.72 464.55 349.35 451.50 349.50C438.45 349.65 410.00 352.33 401.70 352.90Z" fill="#4682b4" fill-opacity="0.5"/>
<path d="M401.70 295.10C406.42 295.00 421.70 294.68 430.00 294.50C438.30 294.32 443.17 294.20 451.50 294.00C459.83 293.80 471.47 293.78 480.00 293.30C488.53 292.82 495.13 292.23 502.70 291.10C510.27 289.97 517.85 288.58 525.40 286.50C532.95 284.42 541.85 281.23 548.00 278.60C554.15 275.97 559.92 272.02 562.30 270.70L562.30 319.40C558.03 320.17 543.05 322.67 536.70 324.00C530.35 325.33 527.98 326.48 524.20 327.40C520.42 328.32 518.37 328.82 514.00 329.50C509.63 330.18 503.67 330.75 498.00 331.50C492.33 332.25 487.75 333.00 480.00 334.00C472.25 335.00 464.55 337.18 451.50 337.50C438.45 337.82 410.00 336.17 401.70 335.90Z" fill="#c7a900" fill-opacity="0.5"/>
<path d="M401.70 331.10C410.00 331.50 438.45 333.02 451.50 333.50C464.55 333.98 471.92 333.58 480.00 334.00C488.08 334.42 492.50 335.00 500.00 336.00C507.50 337.00 517.00 339.08 525.00 340.00C533.00 340.92 541.78 341.10 548.00 341.50C554.22 341.90 559.92 342.25 562.30 342.40L562.30 367.00C556.15 366.07 539.12 362.82 525.40 361.40C511.68 359.98 492.32 359.13 480.00 358.50C467.68 357.87 464.55 357.75 451.50 357.60C438.45 357.45 410.00 357.60 401.70 357.60Z" fill="#b3b3b3" fill-opacity="0.5"/>
<path d="M401.70 311.80C410.00 312.07 438.45 313.27 451.50 313.40C464.55 313.53 473.37 312.73 480.00 312.60C486.63 312.47 487.52 312.40 491.30 312.60C495.08 312.80 497.02 313.23 502.70 313.80C508.38 314.37 517.85 315.82 525.40 316.00C532.95 316.18 541.85 315.27 548.00 314.90C554.15 314.53 559.92 313.98 562.30 313.80L562.30 338.00C559.92 338.87 554.15 341.95 548.00 343.20C541.85 344.45 532.95 345.50 525.40 345.50C517.85 345.50 510.27 343.95 502.70 343.20C495.13 342.45 488.53 341.28 480.00 341.00C471.47 340.72 464.55 341.82 451.50 341.50C438.45 341.18 410.00 339.50 401.70 339.10Z" fill="#b22222" fill-opacity="0.5"/>
<path d="M467.2 348.6 L468.2 347.3 L468.8 346.1 L469.4 343.6 L470.0 341.8 L470.7 343.6 L471.3 346.1 L471.9 348.6 L472.5 351.0 L473.1 353.5 L473.8 349.8 L474.4 344.9 L475.0 347.3 L475.6 351.0 L476.2 353.5 L476.9 354.8 L477.5 352.3 L478.1 348.6 L478.7 347.3 L479.3 349.8 L479.9 346.1 L480.6 343.6 L481.2 348.6 L481.8 352.3 L482.4 354.8 L483.0 356.0 L483.7 358.5 L484.3 362.2 L484.9 363.4 L485.5 359.7 L486.1 354.8 L486.8 348.6 L487.4 342.4 L488.0 346.1 L488.6 351.0 L489.2 354.8 L489.8 353.5 L490.5 349.8 L491.1 346.1 L491.7 348.6 L492.3 347.3 L492.9 351.0 L493.6 354.8 L494.2 352.3 L494.8 349.8 L495.4 348.6 L496.0 351.0 L496.7 349.8 L497.3 347.3 L497.9 348.6 L498.5 346.1 L499.1 344.9 L499.7 346.1 L500.4 343.6 L501.0 344.9 L501.6 347.3 L502.2 349.8 L502.8 351.0 L503.5 348.6 L504.1 346.1 L504.7 344.9 L505.3 347.3 L505.9 349.8 L506.6 348.6 L507.2 346.1 L507.8 347.3 L508.4 351.0 L509.0 353.5 L509.6 349.8 L510.3 348.6 L510.9 351.0 L511.5 352.3" stroke="#dca325" stroke-width="1.4" fill="none" stroke-linejoin="round"/>
<path d="M485.5 362.2 L486.1 367.1 L486.8 370.8 L487.4 374.6 L488.0 379.5 L488.6 383.2 L489.2 377.0 L489.8 369.6 L490.5 364.7 L491.1 360.9 L491.7 365.9 L492.3 369.6 L492.9 372.1 L493.6 374.6 L494.2 370.8 L494.8 367.1 L495.4 369.6 L496.0 373.3 L496.7 378.3 L497.3 379.5 L497.9 375.8 L498.5 370.8 L499.1 367.1 L499.7 364.7 L500.4 362.2 L501.0 360.9 L501.6 364.7 L502.2 370.8 L502.8 378.3 L503.5 384.5 L504.1 386.9 L504.7 382.0 L505.3 379.5 L505.9 377.0 L506.6 373.3 L507.2 369.6 L507.8 372.1 L508.4 374.6 L509.0 377.0 L509.6 373.3 L510.3 372.1 L510.9 374.6 L511.5 375.8 L512.1 374.6" stroke="#f5e07a" stroke-width="1.4" fill="none" stroke-linejoin="round"/>
<path d="M499.1 342.4 L499.7 339.9 L500.4 336.2 L501.0 335.6 L501.6 337.4 L502.2 344.9 L502.8 351.0 L503.5 354.8 L504.1 353.5 L504.7 349.8 L505.3 347.3 L505.9 348.6 L506.6 344.9 L507.2 342.4 L507.8 343.6 L508.4 347.3 L509.0 348.6 L509.6 346.1 L510.3 347.3 L510.9 349.8 L511.5 351.0 L512.1 351.7" stroke="#f0470e" stroke-width="1.4" fill="none" stroke-linejoin="round"/>
<path d="M31.50 213.30H208.05" stroke="#1a1a1a" stroke-width="1.1" fill="none"/>
<path d="M39.52 213.30v2.7" stroke="#333333" stroke-width="1.0"/>
<text x="39.52" y="223.60" font-size="7.7" fill="#4d4d4d" text-anchor="middle">1850</text>
<path d="M71.62 213.30v2.7" stroke="#333333" stroke-width="1.0"/>
<text x="71.62" y="223.60" font-size="7.7" fill="#4d4d4d" text-anchor="middle">1900</text>
<path d="M103.72 213.30v2.7" stroke="#333333" stroke-width="1.0"/>
<text x="103.72" y="223.60" font-size="7.7" fill="#4d4d4d" text-anchor="middle">1950</text>
<path d="M135.82 213.30v2.7" stroke="#333333" stroke-width="1.0"/>
<text x="135.82" y="223.60" font-size="7.7" fill="#4d4d4d" text-anchor="middle">2000</text>
<path d="M167.93 213.30v2.7" stroke="#333333" stroke-width="1.0"/>
<text x="167.93" y="223.60" font-size="7.7" fill="#4d4d4d" text-anchor="middle">2050</text>
<path d="M200.03 213.30v2.7" stroke="#333333" stroke-width="1.0"/>
<text x="200.03" y="223.60" font-size="7.7" fill="#4d4d4d" text-anchor="middle">2100</text>
<text x="119.78" y="5.90" font-size="7.7" fill="#1a1a1a" text-anchor="middle">(a) MED</text>
<path d="M213.10 213.30H389.65" stroke="#1a1a1a" stroke-width="1.1" fill="none"/>
<path d="M221.12 213.30v2.7" stroke="#333333" stroke-width="1.0"/>
<text x="221.12" y="223.60" font-size="7.7" fill="#4d4d4d" text-anchor="middle">1850</text>
<path d="M253.22 213.30v2.7" stroke="#333333" stroke-width="1.0"/>
<text x="253.22" y="223.60" font-size="7.7" fill="#4d4d4d" text-anchor="middle">1900</text>
<path d="M285.32 213.30v2.7" stroke="#333333" stroke-width="1.0"/>
<text x="285.32" y="223.60" font-size="7.7" fill="#4d4d4d" text-anchor="middle">1950</text>
<path d="M317.43 213.30v2.7" stroke="#333333" stroke-width="1.0"/>
<text x="317.43" y="223.60" font-size="7.7" fill="#4d4d4d" text-anchor="middle">2000</text>
<path d="M349.52 213.30v2.7" stroke="#333333" stroke-width="1.0"/>
<text x="349.52" y="223.60" font-size="7.7" fill="#4d4d4d" text-anchor="middle">2050</text>
<path d="M381.62 213.30v2.7" stroke="#333333" stroke-width="1.0"/>
<text x="381.62" y="223.60" font-size="7.7" fill="#4d4d4d" text-anchor="middle">2100</text>
<text x="301.38" y="5.90" font-size="7.7" fill="#1a1a1a" text-anchor="middle">(b) WCE</text>
<path d="M394.40 213.30H570.95" stroke="#1a1a1a" stroke-width="1.1" fill="none"/>
<path d="M402.42 213.30v2.7" stroke="#333333" stroke-width="1.0"/>
<text x="402.42" y="223.60" font-size="7.7" fill="#4d4d4d" text-anchor="middle">1850</text>
<path d="M434.52 213.30v2.7" stroke="#333333" stroke-width="1.0"/>
<text x="434.52" y="223.60" font-size="7.7" fill="#4d4d4d" text-anchor="middle">1900</text>
<path d="M466.62 213.30v2.7" stroke="#333333" stroke-width="1.0"/>
<text x="466.62" y="223.60" font-size="7.7" fill="#4d4d4d" text-anchor="middle">1950</text>
<path d="M498.72 213.30v2.7" stroke="#333333" stroke-width="1.0"/>
<text x="498.72" y="223.60" font-size="7.7" fill="#4d4d4d" text-anchor="middle">2000</text>
<path d="M530.82 213.30v2.7" stroke="#333333" stroke-width="1.0"/>
<text x="530.82" y="223.60" font-size="7.7" fill="#4d4d4d" text-anchor="middle">2050</text>
<path d="M562.92 213.30v2.7" stroke="#333333" stroke-width="1.0"/>
<text x="562.92" y="223.60" font-size="7.7" fill="#4d4d4d" text-anchor="middle">2100</text>
<text x="482.68" y="5.90" font-size="7.7" fill="#1a1a1a" text-anchor="middle">(c) NEU</text>
<path d="M31.50 10.50V213.30" stroke="#1a1a1a" stroke-width="1.1" fill="none"/>
<path d="M31.50 169.11h-2.7" stroke="#333333" stroke-width="1.0"/>
<text x="27.20" y="171.86" font-size="7.7" fill="#4d4d4d" text-anchor="end">−0.3</text>
<path d="M31.50 119.40h-2.7" stroke="#333333" stroke-width="1.0"/>
<text x="27.20" y="122.15" font-size="7.7" fill="#4d4d4d" text-anchor="end">0.0</text>
<path d="M31.50 69.69h-2.7" stroke="#333333" stroke-width="1.0"/>
<text x="27.20" y="72.44" font-size="7.7" fill="#4d4d4d" text-anchor="end">0.3</text>
<path d="M31.50 19.98h-2.7" stroke="#333333" stroke-width="1.0"/>
<text x="27.20" y="22.73" font-size="7.7" fill="#4d4d4d" text-anchor="end">0.6</text>
<path d="M29.00 463.50H206.54" stroke="#1a1a1a" stroke-width="1.1" fill="none"/>
<path d="M37.07 463.50v2.7" stroke="#333333" stroke-width="1.0"/>
<text x="37.07" y="473.80" font-size="7.7" fill="#4d4d4d" text-anchor="middle">1850</text>
<path d="M69.35 463.50v2.7" stroke="#333333" stroke-width="1.0"/>
<text x="69.35" y="473.80" font-size="7.7" fill="#4d4d4d" text-anchor="middle">1900</text>
<path d="M101.63 463.50v2.7" stroke="#333333" stroke-width="1.0"/>
<text x="101.63" y="473.80" font-size="7.7" fill="#4d4d4d" text-anchor="middle">1950</text>
<path d="M133.91 463.50v2.7" stroke="#333333" stroke-width="1.0"/>
<text x="133.91" y="473.80" font-size="7.7" fill="#4d4d4d" text-anchor="middle">2000</text>
<path d="M166.19 463.50v2.7" stroke="#333333" stroke-width="1.0"/>
<text x="166.19" y="473.80" font-size="7.7" fill="#4d4d4d" text-anchor="middle">2050</text>
<path d="M198.47 463.50v2.7" stroke="#333333" stroke-width="1.0"/>
<text x="198.47" y="473.80" font-size="7.7" fill="#4d4d4d" text-anchor="middle">2100</text>
<text x="117.77" y="256.50" font-size="7.7" fill="#1a1a1a" text-anchor="middle">(d) MED</text>
<path d="M211.10 463.50H388.64" stroke="#1a1a1a" stroke-width="1.1" fill="none"/>
<path d="M219.17 463.50v2.7" stroke="#333333" stroke-width="1.0"/>
<text x="219.17" y="473.80" font-size="7.7" fill="#4d4d4d" text-anchor="middle">1850</text>
<path d="M251.45 463.50v2.7" stroke="#333333" stroke-width="1.0"/>
<text x="251.45" y="473.80" font-size="7.7" fill="#4d4d4d" text-anchor="middle">1900</text>
<path d="M283.73 463.50v2.7" stroke="#333333" stroke-width="1.0"/>
<text x="283.73" y="473.80" font-size="7.7" fill="#4d4d4d" text-anchor="middle">1950</text>
<path d="M316.01 463.50v2.7" stroke="#333333" stroke-width="1.0"/>
<text x="316.01" y="473.80" font-size="7.7" fill="#4d4d4d" text-anchor="middle">2000</text>
<path d="M348.29 463.50v2.7" stroke="#333333" stroke-width="1.0"/>
<text x="348.29" y="473.80" font-size="7.7" fill="#4d4d4d" text-anchor="middle">2050</text>
<path d="M380.57 463.50v2.7" stroke="#333333" stroke-width="1.0"/>
<text x="380.57" y="473.80" font-size="7.7" fill="#4d4d4d" text-anchor="middle">2100</text>
<text x="299.87" y="256.50" font-size="7.7" fill="#1a1a1a" text-anchor="middle">(e) WCE</text>
<path d="M393.40 463.50H570.94" stroke="#1a1a1a" stroke-width="1.1" fill="none"/>
<path d="M401.47 463.50v2.7" stroke="#333333" stroke-width="1.0"/>
<text x="401.47" y="473.80" font-size="7.7" fill="#4d4d4d" text-anchor="middle">1850</text>
<path d="M433.75 463.50v2.7" stroke="#333333" stroke-width="1.0"/>
<text x="433.75" y="473.80" font-size="7.7" fill="#4d4d4d" text-anchor="middle">1900</text>
<path d="M466.03 463.50v2.7" stroke="#333333" stroke-width="1.0"/>
<text x="466.03" y="473.80" font-size="7.7" fill="#4d4d4d" text-anchor="middle">1950</text>
<path d="M498.31 463.50v2.7" stroke="#333333" stroke-width="1.0"/>
<text x="498.31" y="473.80" font-size="7.7" fill="#4d4d4d" text-anchor="middle">2000</text>
<path d="M530.59 463.50v2.7" stroke="#333333" stroke-width="1.0"/>
<text x="530.59" y="473.80" font-size="7.7" fill="#4d4d4d" text-anchor="middle">2050</text>
<path d="M562.87 463.50v2.7" stroke="#333333" stroke-width="1.0"/>
<text x="562.87" y="473.80" font-size="7.7" fill="#4d4d4d" text-anchor="middle">2100</text>
<text x="482.17" y="256.50" font-size="7.7" fill="#1a1a1a" text-anchor="middle">(f) NEU</text>
<path d="M29.00 261.10V463.50" stroke="#1a1a1a" stroke-width="1.1" fill="none"/>
<path d="M29.00 451.80h-2.7" stroke="#333333" stroke-width="1.0"/>
<text x="24.70" y="454.55" font-size="7.7" fill="#4d4d4d" text-anchor="end">125</text>
<path d="M29.00 405.40h-2.7" stroke="#333333" stroke-width="1.0"/>
<text x="24.70" y="408.15" font-size="7.7" fill="#4d4d4d" text-anchor="end">150</text>
<path d="M29.00 359.00h-2.7" stroke="#333333" stroke-width="1.0"/>
<text x="24.70" y="361.75" font-size="7.7" fill="#4d4d4d" text-anchor="end">175</text>
<path d="M29.00 312.60h-2.7" stroke="#333333" stroke-width="1.0"/>
<text x="24.70" y="315.35" font-size="7.7" fill="#4d4d4d" text-anchor="end">200</text>
<path d="M29.00 266.20h-2.7" stroke="#333333" stroke-width="1.0"/>
<text x="24.70" y="268.95" font-size="7.7" fill="#4d4d4d" text-anchor="end">225</text>
<text x="301.3" y="233.8" font-size="9.5" fill="#000" text-anchor="middle">Year</text>
<text x="300.5" y="484.3" font-size="9.5" fill="#000" text-anchor="middle">Year</text>
<text transform="translate(7.0 111.3) rotate(-90)" font-size="9.5" fill="#000" text-anchor="middle">ETx7d anomaly [mm/day]</text>
<text transform="translate(7.1 362.2) rotate(-90)" font-size="9.5" fill="#000" text-anchor="middle">Day of Year</text>
<text x="580.9" y="173.2" font-size="9.5" fill="#000">Observational Products</text>
<path d="M582.2 186.60H594.4" stroke="#d9a21b" stroke-width="1.4"/>
<text x="600.7" y="189.40" font-size="7.7" fill="#000">ERA5 Land</text>
<path d="M582.2 201.60H594.4" stroke="#f3d66a" stroke-width="1.4"/>
<text x="600.7" y="204.40" font-size="7.7" fill="#000">GLEAM</text>
<path d="M582.2 216.60H594.4" stroke="#ea5b1f" stroke-width="1.4"/>
<text x="600.7" y="219.40" font-size="7.7" fill="#000">X−BASE</text>
<text x="580.9" y="250.8" font-size="9.5" fill="#000">Climate models</text>
<rect x="581.1" y="257.30" width="13.8" height="13.6" fill="#a3c1da"/>
<text x="600.7" y="266.90" font-size="7.7" fill="#000">CESM2</text>
<rect x="581.1" y="272.30" width="13.8" height="13.6" fill="#ffeb80"/>
<text x="600.7" y="281.90" font-size="7.7" fill="#000">MIROC−ES2L</text>
<rect x="581.1" y="287.30" width="13.8" height="13.6" fill="#d9d9d9"/>
<text x="600.7" y="296.90" font-size="7.7" fill="#000">MPI−ESM1−2−LR</text>
<rect x="581.1" y="302.30" width="13.8" height="13.6" fill="#d99191"/>
<text x="600.7" y="311.90" font-size="7.7" fill="#000">UKESM1−0−LL</text>
</svg></body></html>
